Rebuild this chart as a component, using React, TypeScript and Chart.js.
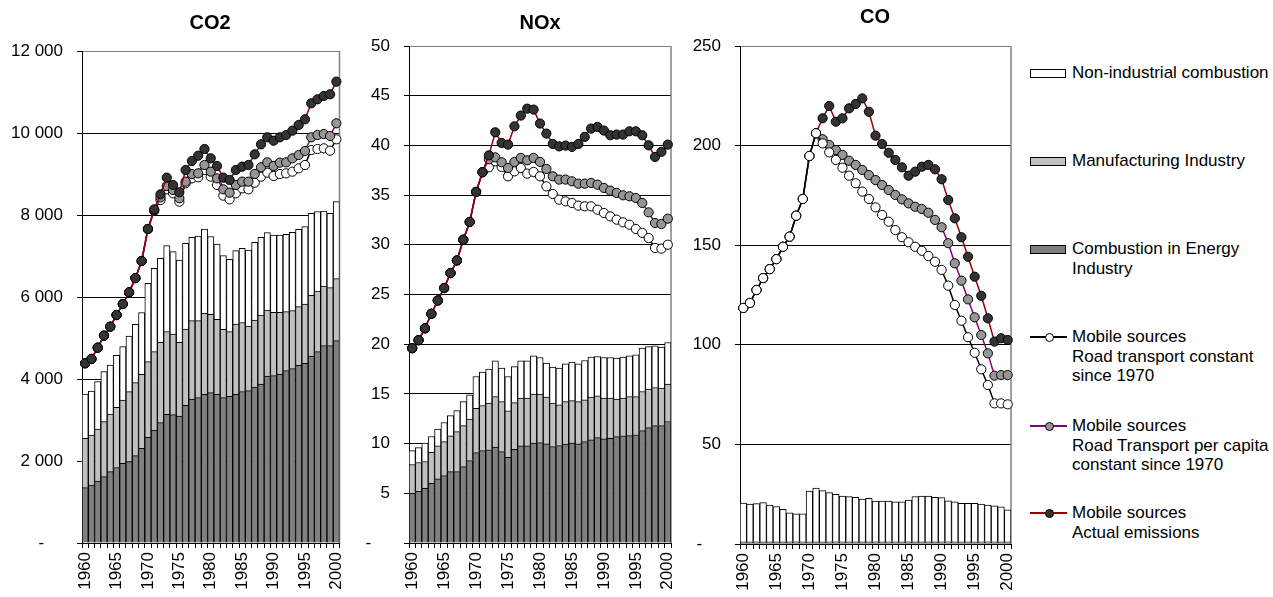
import React, { useEffect, useRef } from 'react';
import { Chart, registerables } from 'chart.js';

Chart.register(...registerables);

const FONT = "'Liberation Sans', Arial, Helvetica, sans-serif";

const years = ['1960','1961','1962','1963','1964','1965','1966','1967','1968','1969','1970','1971','1972','1973','1974','1975','1976','1977','1978','1979','1980','1981','1982','1983','1984','1985','1986','1987','1988','1989','1990','1991','1992','1993','1994','1995','1996','1997','1998','1999','2000'];

// ---------- CO2 ----------
const co2Energy = [1349,1415,1512,1618,1740,1837,1943,1984,2130,2309,2577,2756,2935,3138,3130,3098,3358,3512,3545,3626,3667,3626,3545,3577,3626,3691,3715,3805,3878,4073,4081,4122,4203,4252,4333,4382,4561,4667,4813,4813,4935];
const co2Manuf = [1204,1219,1268,1341,1406,1472,1545,1707,1780,1805,1846,1911,1959,2017,1968,1796,1862,1911,1878,1976,1910,1829,1666,1578,1715,1683,1578,1634,1683,1610,1545,1504,1439,1415,1431,1447,1480,1479,1455,1415,1515];
const co2NonInd = [1081,1073,1155,1220,1195,1268,1301,1358,1423,1504,1910,2032,2049,2097,2008,2008,2089,2033,2065,2057,1895,1838,1797,1764,1789,1813,1853,1894,1895,1886,1886,1886,1886,1910,1886,1886,2000,1935,1830,1813,1875];
const co2Actual = [4383,4488,4764,5057,5276,5561,5829,6114,6460,6878,7659,8138,8504,8911,8732,8553,9098,9317,9447,9610,9382,9195,8911,8854,9098,9179,9220,9480,9724,9895,9812,9895,9951,10057,10195,10334,10724,10822,10902,10944,11252];
const co2PerCapita = [4383,4488,4764,5057,5276,5561,5829,6114,6460,6878,7659,8120,8431,8707,8610,8407,8813,9000,9016,9220,9057,8894,8626,8544,8732,8813,8813,9000,9163,9285,9195,9277,9285,9382,9463,9561,9895,9951,9976,9927,10236];
const co2Constant = [4383,4488,4764,5057,5276,5561,5829,6114,6460,6878,7659,8100,8366,8626,8529,8325,8773,8894,8919,9098,8935,8732,8472,8382,8529,8650,8626,8789,8935,9033,8951,9000,9016,9057,9138,9220,9585,9610,9626,9569,9846];

// ---------- NOx ----------
const noxEnergy = [5.0,5.2,5.5,6.0,6.45,6.78,7.18,7.18,7.69,8.29,9.1,9.3,9.37,9.64,9.2,8.63,9.43,9.77,9.77,10.04,10.1,9.97,9.7,9.8,9.94,10.04,9.97,10.2,10.37,10.6,10.47,10.54,10.7,10.78,10.8,10.88,11.31,11.61,11.81,11.81,12.22];
const noxManuf = [2.9,2.9,2.7,3.13,3.32,3.42,3.6,4.03,4.12,4.17,4.46,4.53,4.7,5.09,5.03,4.66,4.7,4.8,4.8,4.93,4.87,4.7,4.37,4.1,4.29,4.29,4.26,4.2,4.3,4.2,4.1,4.03,3.77,3.79,3.93,3.85,3.93,3.87,3.83,3.77,3.76];
const noxNonInd = [1.4,1.5,1.85,1.58,1.68,1.92,2.04,2.11,2.42,2.44,3.19,3.36,3.42,3.6,3.36,3.46,3.62,3.76,3.76,3.86,3.69,3.43,3.62,3.69,3.8,3.87,3.8,3.96,4.03,3.96,4.09,4.09,4.13,4.13,4.1,4.2,4.36,4.29,4.2,4.12,4.19];
const noxActual = [19.6,20.4,21.6,23.06,24.4,25.65,27.16,28.43,30.51,32.3,35.32,37.3,39.0,41.32,40.25,40.08,41.92,43.0,43.7,43.6,42.2,41.19,40.15,39.9,39.98,39.85,40.15,40.86,41.69,41.86,41.49,41.02,41.09,41.09,41.42,41.42,41.02,40.01,38.84,39.35,40.08];
const noxPerCapita = [19.6,20.4,21.6,23.06,24.4,25.65,27.16,28.43,30.51,32.3,35.32,37.3,38.6,38.8,38.3,37.73,38.34,38.74,38.5,38.74,38.34,37.63,36.89,36.56,36.56,36.39,36.15,36.15,36.22,36.05,35.72,35.45,35.22,34.98,34.88,34.71,34.21,33.26,32.19,32.09,32.63];
const noxConstant = [19.6,20.4,21.6,23.06,24.4,25.65,27.16,28.43,30.51,32.3,35.32,37.3,37.8,38.4,37.83,36.89,37.39,37.73,37.16,37.33,36.89,35.88,35.11,34.54,34.37,34.21,33.94,33.87,33.87,33.53,33.2,32.86,32.53,32.26,32.02,31.59,31.2,30.68,29.68,29.61,30.01];

// ---------- CO ----------
const coEnergy = [0.6,0.6,0.6,0.6,0.6,0.6,0.6,0.6,0.6,0.6,0.6,0.6,0.6,0.6,0.6,0.6,0.6,0.6,0.6,0.6,0.6,0.6,0.6,0.6,0.6,0.6,0.6,0.6,0.6,0.6,0.6,0.6,0.6,0.6,0.6,0.6,0.6,0.6,0.6,0.6,0.6];
const coManuf = [0.5,0.5,0.5,0.5,0.5,0.5,0.5,0.5,0.5,0.5,0.5,0.5,0.5,0.5,0.5,0.5,0.5,0.5,0.5,0.5,0.5,0.5,0.5,0.5,0.5,0.5,0.5,0.5,0.5,0.5,0.5,0.5,0.5,0.5,0.5,0.5,0.5,0.5,0.5,0.5,0.5];
const coNonInd = [19.4,18.9,19.2,19.7,18.5,17.7,16.3,14.6,14.0,14.0,25.5,27.0,25.7,24.7,23.8,23.0,22.7,22.3,21.5,21.8,20.5,20.5,20.5,20.1,20.1,21.0,22.7,23.0,23.0,22.3,22.2,20.6,20.1,19.3,19.3,19.3,19.0,18.5,18.1,17.6,16.0];
const coActual = [118.5,121,127.5,133.5,138,143,149.2,154.3,164.8,173.2,194.8,206.2,213.7,219.9,212,213.7,218.7,220.9,223.7,217,205,200.8,196.4,192.8,189.1,184.9,186.9,189.4,190.3,188.1,183.1,172.7,163.5,154,144.2,134.2,124.6,113.3,101.6,103.3,102.4];
const coPerCapita = [118.5,121,127.5,133.5,138,143,149.2,154.3,164.8,173.2,194.8,206.2,203.2,200.3,197.8,195.3,192.4,190.3,187.8,185.2,182.7,180.2,177.7,175.2,173,171,169.3,168.2,166.3,162.7,159,151,140.9,132.2,122.8,113.8,104.9,95.7,84.5,84.8,84.8];
const coConstant = [118.5,121,127.5,133.5,138,143,149.2,154.3,164.8,173.2,194.8,206.2,201.1,196.6,192.8,188.9,184.9,181.1,176.9,173.2,169,165.2,161.8,157.6,154,151.5,149.2,147.2,144.6,141.7,137.6,129.7,120,112.1,103.8,96,87.7,79.8,70.6,70.6,70.1];

const C_NONIND = '#ffffff';
const C_MANUF = '#c0c0c0';
const C_ENERGY = '#808080';
const C_PT_CONST = '#ffffff';
const C_PT_CAP = '#969696';
const C_PT_ACT = '#333333';
const C_LN_CONST = '#000000';
const C_LN_CAP = '#800080';
const C_LN_ACT = '#990000';

function fmt(v: number): string {
  if (v === 0) return '-    ';
  return String(v).replace(/\B(?=(\d{3})+(?!\d))/g, ' ');
}

type PanelProps = {
  left: number; width: number; yWidth: number; padRight: number; padTop: number; xHeight: number;
  max: number; step: number;
  energy: number[]; manuf: number[]; nonind: number[];
  constant: number[]; perCapita: number[]; actual: number[];
  constantOnTop: boolean;
};

function Panel(p: PanelProps) {
  const ref = useRef<HTMLCanvasElement | null>(null);
  useEffect(() => {
    if (!ref.current) return;
    const frame = {
      id: 'frame',
      beforeDatasetsDraw(chart: any) {
        const { ctx, chartArea: a } = chart;
        ctx.save();
        ctx.strokeStyle = '#808080';
        ctx.lineWidth = 1.5;
        ctx.beginPath();
        ctx.moveTo(a.right, a.top);
        ctx.lineTo(a.right, a.bottom);
        ctx.stroke();
        ctx.restore();
      },
    };
    const lineDs = (label: string, data: number[], line: string, pt: string, stack: string, order: number) => ({
      type: 'line' as const,
      label, data, stack, order,
      borderColor: line,
      borderWidth: 1.5,
      pointRadius: 4.6,
      pointBackgroundColor: pt,
      pointBorderColor: '#000',
      pointBorderWidth: 1,
      tension: 0,
      fill: false,
    });
    const barDs = (label: string, data: number[], color: string) => ({
      type: 'bar' as const,
      label, data, stack: 'bars', order: 10,
      backgroundColor: color,
      borderColor: '#000',
      borderWidth: 1,
      barPercentage: 1,
      categoryPercentage: 1,
    });
    const chart = new Chart(ref.current, {
      type: 'bar',
      data: {
        labels: years,
        datasets: [
          lineDs('Actual', p.actual, C_LN_ACT, C_PT_ACT, 'l3', p.constantOnTop ? 2 : 0),
          lineDs('Per capita', p.perCapita, C_LN_CAP, C_PT_CAP, 'l2', 1),
          lineDs('Constant', p.constant, C_LN_CONST, C_PT_CONST, 'l1', p.constantOnTop ? 0 : 2),
          barDs('Combustion in Energy Industry', p.energy, C_ENERGY),
          barDs('Manufacturing Industry', p.manuf, C_MANUF),
          barDs('Non-industrial combustion', p.nonind, C_NONIND),
        ] as any,
      },
      options: {
        animation: false,
        responsive: false,
        maintainAspectRatio: false,
        layout: { padding: { left: 0, right: p.padRight, top: p.padTop, bottom: 0 } },
        plugins: { legend: { display: false }, tooltip: { enabled: false }, title: { display: false } },
        scales: {
          x: {
            stacked: true,
            grid: { display: true, drawOnChartArea: false, drawTicks: true, tickLength: 5, color: '#000', lineWidth: 1 },
            border: { color: '#000', width: 1 },
            ticks: {
              autoSkip: false, maxRotation: 90, minRotation: 90, padding: 4, color: '#000',
              font: { family: FONT, size: 17 },
              callback: (_v: any, i: number) => (Number(years[i]) % 5 === 0 ? years[i] : ''),
            },
            afterFit: (s: any) => { s.height = p.xHeight; s.paddingLeft = 0; s.paddingRight = 0; },
          },
          y: {
            stacked: true,
            min: 0,
            max: p.max,
            ticks: {
              stepSize: p.step, padding: 14, color: '#000',
              font: { family: FONT, size: 17 },
              callback: (v: any) => fmt(Number(v)),
            },
            grid: {
              color: (c: any) => (c.tick && c.tick.value === p.max ? '#808080' : '#000'),
              tickColor: '#000',
              lineWidth: 1, tickLength: 5, drawTicks: true,
            },
            border: { color: '#000', width: 1 },
            afterFit: (s: any) => { s.width = p.yWidth; s.paddingTop = 0; s.paddingBottom = 0; },
          },
        },
      } as any,
      plugins: [frame],
    });
    return () => chart.destroy();
  }, []);
  return (
    <canvas
      ref={ref}
      width={p.width}
      height={597}
      style={{ position: 'absolute', left: p.left, top: 0, width: p.width, height: 597 }}
    />
  );
}

const titleStyle = (cx: number, top: number): React.CSSProperties => ({
  position: 'absolute', left: cx - 60, width: 120, top, textAlign: 'center',
  fontFamily: FONT, fontWeight: 'bold', fontSize: 20, lineHeight: '20px', color: '#000',
});

const legendText: React.CSSProperties = {
  position: 'absolute', left: 1072, fontFamily: FONT, fontSize: 17, lineHeight: '19.5px', color: '#000', whiteSpace: 'nowrap',
};

function BoxKey({ y, color, lines }: { y: number; color: string; lines: string[] }) {
  return (
    <>
      <div style={{ position: 'absolute', left: 1030, top: y - 4, width: 34, height: 7, background: color, border: '1px solid #000' }} />
      <div style={{ ...legendText, top: y - 9.75 }}>{lines.map((l, i) => <div key={i}>{l}</div>)}</div>
    </>
  );
}

function LineKey({ y, line, pt, lines }: { y: number; line: string; pt: string; lines: string[] }) {
  return (
    <>
      <div style={{ position: 'absolute', left: 1030, top: y - 1, width: 37, height: 2, background: line }} />
      <div style={{ position: 'absolute', left: 1045, top: y - 4.5, width: 7, height: 7, borderRadius: '50%', background: pt, border: '1px solid #000' }} />
      <div style={{ ...legendText, top: y - 9.75 }}>{lines.map((l, i) => <div key={i}>{l}</div>)}</div>
    </>
  );
}

export default function App() {
  return (
    <div style={{ position: 'fixed', left: 0, top: 0, width: 1273, height: 597, background: '#fff', overflow: 'hidden' }}>
      <Panel left={0} width={350} yWidth={82} padRight={10.5} padTop={51} xHeight={54} max={12000} step={2000}
        energy={co2Energy} manuf={co2Manuf} nonind={co2NonInd}
        constant={co2Constant} perCapita={co2PerCapita} actual={co2Actual} constantOnTop={false} />
      <Panel left={350} width={340} yWidth={59} padRight={19} padTop={46} xHeight={54} max={50} step={5}
        energy={noxEnergy} manuf={noxManuf} nonind={noxNonInd}
        constant={noxConstant} perCapita={noxPerCapita} actual={noxActual} constantOnTop={false} />
      <Panel left={690} width={330} yWidth={50} padRight={9} padTop={46} xHeight={53} max={250} step={50}
        energy={coEnergy} manuf={coManuf} nonind={coNonInd}
        constant={coConstant} perCapita={coPerCapita} actual={coActual} constantOnTop={true} />

      <div style={titleStyle(210, 12)}>CO2</div>
      <div style={titleStyle(540, 12)}>NOx</div>
      <div style={titleStyle(875, 6)}>CO</div>

      <BoxKey y={72.5} color={C_NONIND} lines={['Non-industrial combustion']} />
      <BoxKey y={161} color={C_MANUF} lines={['Manufacturing Industry']} />
      <BoxKey y={249} color={C_ENERGY} lines={['Combustion in Energy', 'Industry']} />
      <LineKey y={337} line={C_LN_CONST} pt={C_PT_CONST} lines={['Mobile sources', 'Road transport constant', 'since 1970']} />
      <LineKey y={426} line={C_LN_CAP} pt={C_PT_CAP} lines={['Mobile sources', 'Road Transport per capita', 'constant since 1970']} />
      <LineKey y={513} line={C_LN_ACT} pt={C_PT_ACT} lines={['Mobile sources', 'Actual emissions']} />
    </div>
  );
}
